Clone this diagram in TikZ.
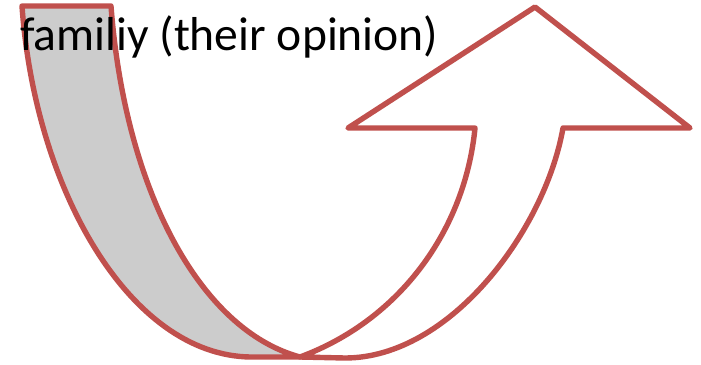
\documentclass[tikz,border=0pt]{standalone}
\usepackage{fontspec}
\setmainfont{Carlito}
\usepackage{xcolor}
\definecolor{brick}{HTML}{C0504D}
\definecolor{backgray}{HTML}{CCCCCC}
\usetikzlibrary{positioning}
\tikzset{
  band/.style ={draw=brick,line width=5.4pt,line join=round},
  backside/.style={band,fill=backgray},
  frontside/.style={band,fill=white},
  lbl/.style  ={font=\fontsize{47.6}{56}\selectfont,inner sep=0pt,text=black},
}
\begin{document}
\begin{tikzpicture}[x=1pt,y=-1pt]
\useasboundingbox (0,0) rectangle (701,364);
% back of the band
\draw[backside] (22,6) .. controls (35,190) and (130,355) .. (250,357)
  -- (300,357) .. controls (200,330) and (125,190) .. (111,6) -- cycle;
% front of the band with the arrow head
\draw[frontside] (300,357) -- (345,358)
  .. controls (450,358) and (545,230) .. (563,128)
  -- (690,128) -- (535,7) -- (348,128) -- (475,128)
  .. controls (465,230) and (400,320) .. (300,357) -- cycle;
\node[lbl,anchor=base west] (title) at (20,50) {familiy (their opinion)};
\end{tikzpicture}
\end{document}
